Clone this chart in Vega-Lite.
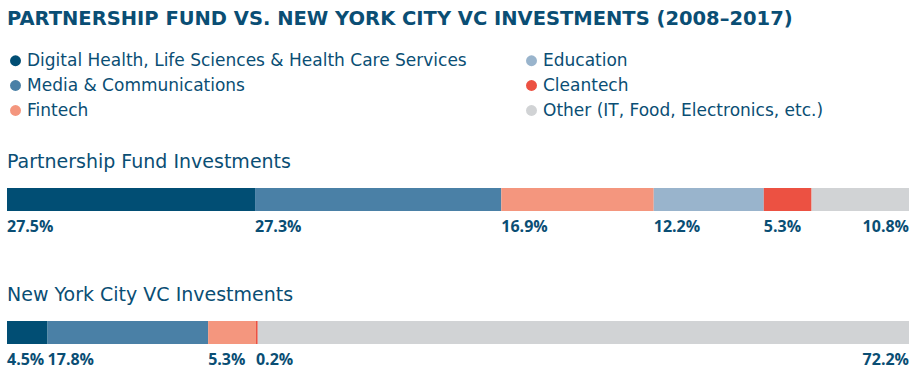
{
  "$schema": "https://vega.github.io/schema/vega-lite/v6.json",
  "padding": {"left": 7, "top": 8, "right": 7, "bottom": 4},
  "background": "white",
  "title": {"text": "PARTNERSHIP FUND VS. NEW YORK CITY VC INVESTMENTS (2008–2017)", "anchor": "start", "font": "DejaVu Sans", "fontSize": 19.5, "fontWeight": "bold", "color": "#0a4e74", "offset": 23},
  "data": {"values": [
    {"group": "Partnership Fund Investments", "cat": "Digital Health, Life Sciences & Health Care Services", "pct": 27.5, "label": "27.5%"},
    {"group": "Partnership Fund Investments", "cat": "Media & Communications", "pct": 27.3, "label": "27.3%"},
    {"group": "Partnership Fund Investments", "cat": "Fintech", "pct": 16.9, "label": "16.9%"},
    {"group": "Partnership Fund Investments", "cat": "Education", "pct": 12.2, "label": "12.2%"},
    {"group": "Partnership Fund Investments", "cat": "Cleantech", "pct": 5.3, "label": "5.3%"},
    {"group": "Partnership Fund Investments", "cat": "Other (IT, Food, Electronics, etc.)", "pct": 10.8, "label": "10.8%"},
    {"group": "New York City VC Investments", "cat": "Digital Health, Life Sciences & Health Care Services", "pct": 4.5, "label": "4.5%"},
    {"group": "New York City VC Investments", "cat": "Media & Communications", "pct": 17.8, "label": "17.8%"},
    {"group": "New York City VC Investments", "cat": "Fintech", "pct": 5.3, "label": "5.3%"},
    {"group": "New York City VC Investments", "cat": "Cleantech", "pct": 0.2, "label": "0.2%"},
    {"group": "New York City VC Investments", "cat": "Other (IT, Food, Electronics, etc.)", "pct": 72.2, "label": "72.2%"}
  ]},
  "config": {
    "view": {"stroke": null},
    "font": "DejaVu Sans",
    "concat": {"spacing": 51},
    "legend": {"orient": "top", "columns": 2, "title": null, "symbolType": "circle", "symbolSize": 120, "labelFont": "DejaVu Sans", "labelFontSize": 17, "labelColor": "#0a4e74", "labelLimit": 600, "rowPadding": 7, "columnPadding": 56, "labelOffset": 3, "offset": 34, "symbolStrokeWidth": 0, "padding": 0}
  },
  "vconcat": [
    {
      "title": {"text": "Partnership Fund Investments", "anchor": "start", "font": "DejaVu Sans", "fontSize": 19, "fontWeight": "normal", "color": "#0a4e74", "offset": 16},
      "width": 902, "height": 23,
      "transform": [
        {"filter": "datum.group === 'Partnership Fund Investments'"},
        {"stack": "pct", "groupby": ["group"], "as": ["start", "end"]}
      ],
      "layer": [
        {"mark": {"type": "rect"}, "encoding": {
          "x": {"field": "start", "type": "quantitative", "scale": {"domain": [0, 100], "nice": false, "zero": true}, "axis": null},
          "x2": {"field": "end"},
          "color": {"field": "cat", "type": "nominal",
            "scale": {"domain": ["Digital Health, Life Sciences & Health Care Services", "Media & Communications", "Fintech", "Education", "Cleantech", "Other (IT, Food, Electronics, etc.)"], "range": ["#014e74", "#4a80a6", "#f4967e", "#99b4cc", "#ec5142", "#d1d3d5"]},
            "legend": {"values": ["Digital Health, Life Sciences & Health Care Services", "Education", "Media & Communications", "Cleantech", "Fintech", "Other (IT, Food, Electronics, etc.)"]}}
        }},
        {"transform": [{"filter": "datum.cat !== 'Other (IT, Food, Electronics, etc.)'"}],
         "mark": {"type": "text", "align": "left", "baseline": "middle", "dy": 27, "font": "Open Sans", "fontSize": 16, "fontWeight": "bold", "color": "#0a4e74"},
         "encoding": {"x": {"field": "start", "type": "quantitative"}, "text": {"field": "label", "type": "nominal"}}},
        {"transform": [{"filter": "datum.cat === 'Other (IT, Food, Electronics, etc.)'"}],
         "mark": {"type": "text", "align": "right", "baseline": "middle", "dy": 27, "font": "Open Sans", "fontSize": 16, "fontWeight": "bold", "color": "#0a4e74"},
         "encoding": {"x": {"field": "end", "type": "quantitative"}, "text": {"field": "label", "type": "nominal"}}}
      ]
    },
    {
      "title": {"text": "New York City VC Investments", "anchor": "start", "font": "DejaVu Sans", "fontSize": 19, "fontWeight": "normal", "color": "#0a4e74", "offset": 16},
      "width": 902, "height": 23,
      "transform": [
        {"filter": "datum.group === 'New York City VC Investments'"},
        {"stack": "pct", "groupby": ["group"], "as": ["start", "end"]}
      ],
      "layer": [
        {"mark": {"type": "rect"}, "encoding": {
          "x": {"field": "start", "type": "quantitative", "scale": {"domain": [0, 100], "nice": false, "zero": true}, "axis": null},
          "x2": {"field": "end"},
          "color": {"field": "cat", "type": "nominal",
            "scale": {"domain": ["Digital Health, Life Sciences & Health Care Services", "Media & Communications", "Fintech", "Education", "Cleantech", "Other (IT, Food, Electronics, etc.)"], "range": ["#014e74", "#4a80a6", "#f4967e", "#99b4cc", "#ec5142", "#d1d3d5"]},
            "legend": {"values": ["Digital Health, Life Sciences & Health Care Services", "Education", "Media & Communications", "Cleantech", "Fintech", "Other (IT, Food, Electronics, etc.)"]}}
        }},
        {"transform": [{"filter": "datum.cat !== 'Other (IT, Food, Electronics, etc.)'"}],
         "mark": {"type": "text", "align": "left", "baseline": "middle", "dy": 27, "font": "Open Sans", "fontSize": 16, "fontWeight": "bold", "color": "#0a4e74"},
         "encoding": {"x": {"field": "start", "type": "quantitative"}, "text": {"field": "label", "type": "nominal"}}},
        {"transform": [{"filter": "datum.cat === 'Other (IT, Food, Electronics, etc.)'"}],
         "mark": {"type": "text", "align": "right", "baseline": "middle", "dy": 27, "font": "Open Sans", "fontSize": 16, "fontWeight": "bold", "color": "#0a4e74"},
         "encoding": {"x": {"field": "end", "type": "quantitative"}, "text": {"field": "label", "type": "nominal"}}}
      ]
    }
  ]
}
